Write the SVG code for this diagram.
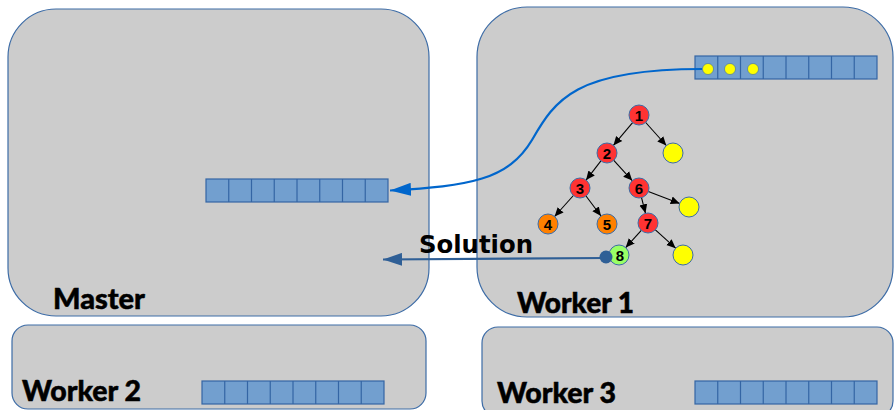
<svg xmlns="http://www.w3.org/2000/svg" width="894" height="410" viewBox="0 0 894 410">
<style>
.box{fill:#cccccc;stroke:#3d6ca6;stroke-width:1.2}
.q{fill:#729fcf;stroke:#3465a4;stroke-width:1.2}
.lbl{font-family:Lato,"Liberation Sans",sans-serif;font-weight:900;font-size:28px;fill:#000;stroke:#000;stroke-width:0.5}
.sol{font-family:"DejaVu Sans","Liberation Sans",sans-serif;font-weight:bold;font-size:24px;fill:#000}
.n{stroke:#3d6ca6;stroke-width:1}
.red{fill:#ff3333}.org{fill:#ff8000}.yel{fill:#ffff00}.grn{fill:#99ff66}
.nt{font-family:"Liberation Sans",Arial,sans-serif;font-weight:bold;font-size:15px;fill:#000;text-anchor:middle}
.e{stroke:#000;stroke-width:1.1;fill:none;marker-end:url(#ah)}
</style>
<defs>
<marker id="ah" markerUnits="userSpaceOnUse" markerWidth="10" markerHeight="10" refX="9" refY="4" orient="auto" viewBox="0 0 10 8">
<path d="M0,0 L9,4 L0,8 Z" fill="#000"/>
</marker>
<marker id="ab" markerUnits="userSpaceOnUse" markerWidth="22" markerHeight="13" refX="21" refY="6.5" orient="auto" viewBox="0 0 22 13">
<path d="M0,0 L21,6.5 L0,13 Z" fill="#0066cc"/>
</marker>
<marker id="ad" markerUnits="userSpaceOnUse" markerWidth="20" markerHeight="13" refX="19" refY="6.5" orient="auto" viewBox="0 0 20 13">
<path d="M0,0 L19,6.5 L0,13 Z" fill="#2f5f96"/>
</marker>
<g id="q8">
<rect class="q" x="0" y="0" width="182" height="23"/>
<path d="M22.75,0V23M45.5,0V23M68.25,0V23M91,0V23M113.75,0V23M136.5,0V23M159.25,0V23" stroke="#3465a4" stroke-width="1.2"/>
</g>
</defs>

<g id="master">
<rect class="box" x="8" y="9" width="421" height="307" rx="48" ry="48"/>
<use href="#q8" x="206" y="179"/>
<text class="lbl" x="53" y="309" textLength="92" lengthAdjust="spacingAndGlyphs">Master</text>
</g>

<g id="worker1">
<rect class="box" x="477" y="7" width="416" height="310" rx="50" ry="50"/>
<use href="#q8" x="695" y="56"/>
<circle cx="708" cy="69" r="5.5" fill="#ffff00" stroke="#3d6ca6" stroke-width="0.6"/>
<circle cx="730" cy="69" r="5.5" fill="#ffff00" stroke="#3d6ca6" stroke-width="0.6"/>
<circle cx="753" cy="69" r="5.5" fill="#ffff00" stroke="#3d6ca6" stroke-width="0.6"/>
<text class="lbl" x="517" y="313" textLength="117" lengthAdjust="spacingAndGlyphs">Worker 1</text>
</g>

<g id="worker2">
<rect class="box" x="12" y="325" width="414" height="84" rx="16" ry="16"/>
<use href="#q8" x="202" y="381"/>
<text class="lbl" x="22" y="401" textLength="119" lengthAdjust="spacingAndGlyphs">Worker 2</text>
</g>

<g id="worker3">
<rect class="box" x="482" y="327" width="411" height="90" rx="16" ry="16"/>
<use href="#q8" x="695" y="381"/>
<text class="lbl" x="497" y="403" textLength="119" lengthAdjust="spacingAndGlyphs">Worker 3</text>
</g>

<g id="connectors">
<path d="M702,69 C575,69 555,100 532,140 C508,180 470,186 390,190.5" fill="none" stroke="#0066cc" stroke-width="2.2" marker-end="url(#ab)"/>
<line x1="606" y1="258" x2="383" y2="259.5" stroke="#2f5f96" stroke-width="2.2" marker-end="url(#ad)"/>
<line class="e" x1="632.6" y1="122.6" x2="613.4" y2="145.4"/>
<line class="e" x1="645.7" y1="122.5" x2="666.3" y2="145.5"/>
<line class="e" x1="600.9" y1="160.9" x2="586.1" y2="180.1"/>
<line class="e" x1="613.8" y1="160.4" x2="632.2" y2="180.6"/>
<line class="e" x1="573.4" y1="195.5" x2="554.6" y2="216.5"/>
<line class="e" x1="586" y1="196" x2="601" y2="216"/>
<line class="e" x1="641.5" y1="197.7" x2="645.5" y2="213.3"/>
<line class="e" x1="648.3" y1="191.6" x2="679.7" y2="203.4"/>
<line class="e" x1="641.3" y1="230.4" x2="625.7" y2="247.6"/>
<line class="e" x1="655.4" y1="229.8" x2="675.6" y2="248.2"/>
</g>

<text id="solution" class="sol" x="419" y="253" textLength="114" lengthAdjust="spacingAndGlyphs">Solution</text>

<g id="n1"><circle class="n red" cx="639" cy="115" r="10"/><text class="nt" x="639" y="120.5">1</text></g>
<g id="y1"><circle class="n yel" cx="673" cy="153" r="10"/></g>
<g id="n2"><circle class="n red" cx="607" cy="153" r="10"/><text class="nt" x="607" y="158.5">2</text></g>
<g id="n3"><circle class="n red" cx="580" cy="188" r="10"/><text class="nt" x="580" y="193.5">3</text></g>
<g id="n6"><circle class="n red" cx="639" cy="188" r="10"/><text class="nt" x="639" y="193.5">6</text></g>
<g id="y2"><circle class="n yel" cx="689" cy="207" r="10"/></g>
<g id="n4"><circle class="n org" cx="548" cy="224" r="10"/><text class="nt" x="548" y="229.5">4</text></g>
<g id="n5"><circle class="n org" cx="607" cy="224" r="10"/><text class="nt" x="607" y="229.5">5</text></g>
<g id="n7"><circle class="n red" cx="648" cy="223" r="10"/><text class="nt" x="648" y="228.5">7</text></g>
<g id="n8"><circle class="n grn" cx="619" cy="255" r="10"/><circle cx="606" cy="257" r="6.5" fill="#2f5f96"/><text class="nt" x="620" y="260.5">8</text></g>
<g id="y3"><circle class="n yel" cx="683" cy="255" r="10"/></g>
</svg>
